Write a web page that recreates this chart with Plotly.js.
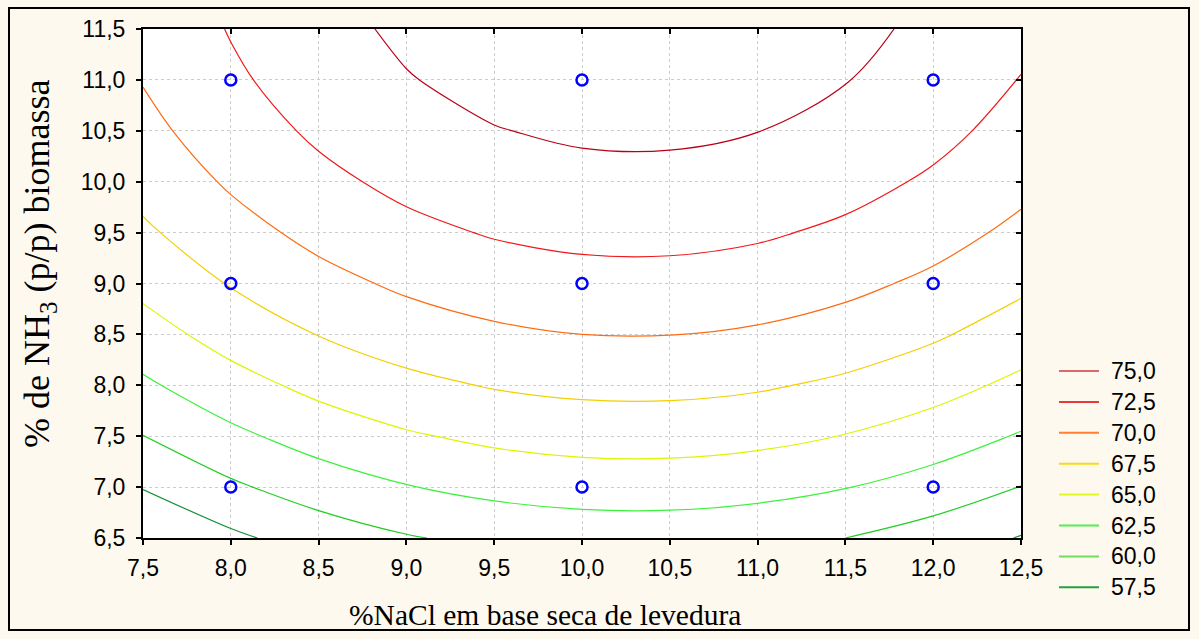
<!DOCTYPE html>
<html>
<head>
<meta charset="utf-8">
<script src="https://cdn.plot.ly/plotly-3.0.1.min.js"></script>
<style>
  html, body { margin: 0; padding: 0; background: #fdf9ef; }
  #chart { width: 1199px; height: 639px; }
</style>
</head>
<body>
<div id="chart"></div>
<script>
// Grid of %NaCl (x) and %NH3 (y) on which the response surface was read
const xGrid = [7.5, 8.0, 8.5, 9.0, 9.5, 10.0, 10.5, 11.0, 11.5, 12.0, 12.5];
const yGrid = [6.5, 7.0, 7.5, 8.0, 8.5, 9.0, 9.5, 10.0, 10.5, 11.0, 11.5];
// Response values (rows follow yGrid, columns follow xGrid)
const zGrid = [
  [55.04, 57.02, 58.61, 59.81, 60.62, 61.05, 61.09, 60.74, 60.00, 58.88, 57.37],
  [57.62, 59.60, 61.19, 62.39, 63.20, 63.63, 63.67, 63.32, 62.58, 61.46, 59.95],
  [59.96, 61.94, 63.53, 64.73, 65.54, 65.97, 66.01, 65.66, 64.92, 63.80, 62.29],
  [62.09, 64.07, 65.66, 66.86, 67.67, 68.10, 68.14, 67.79, 67.05, 65.93, 64.42],
  [63.99, 65.97, 67.56, 68.76, 69.57, 70.00, 70.04, 69.69, 68.95, 67.83, 66.32],
  [65.66, 67.64, 69.23, 70.43, 71.24, 71.67, 71.71, 71.36, 70.62, 69.50, 67.99],
  [67.11, 69.09, 70.68, 71.88, 72.69, 73.12, 73.16, 72.81, 72.07, 70.95, 69.44],
  [68.33, 70.31, 71.90, 73.10, 73.91, 74.34, 74.38, 74.03, 73.29, 72.17, 70.66],
  [69.33, 71.31, 72.90, 74.10, 74.91, 75.34, 75.38, 75.03, 74.29, 73.17, 71.66],
  [70.11, 72.09, 73.68, 74.88, 75.69, 76.12, 76.16, 75.81, 75.07, 73.95, 72.44],
  [70.66, 72.64, 74.23, 75.43, 76.24, 76.67, 76.71, 76.36, 75.62, 74.50, 72.99]
];
// Contour levels (legend order) and their colours
const levels = [75.0, 72.5, 70.0, 67.5, 65.0, 62.5, 60.0, 57.5];
const levelLabels = ["75,0", "72,5", "70,0", "67,5", "65,0", "62,5", "60,0", "57,5"];
const levelColors = ["#b80018", "#f01818", "#ff6a10", "#f2d000", "#dcf500", "#3cf03c", "#22cc22", "#15913a"];
const legendColors = ["#d86a6a", "#e83a3a", "#ff8030", "#f8dc10", "#e0fa20", "#50f050", "#70dc60", "#25a040"];
// Experimental design points
const designX = [8, 8, 8, 10, 10, 10, 12, 12, 12];
const designY = [7, 9, 11, 7, 9, 11, 7, 9, 11];
// Text
const xTitle = '%NaCl em base seca de levedura';
const yTitle = '% de NH<sub>3</sub> (p/p) biomassa';

const traces = [];
levels.forEach((lv, i) => {
  traces.push({
    type: 'contour', x: xGrid, y: yGrid, z: zGrid,
    autocontour: false,
    contours: { start: lv, end: lv, size: 2.5, coloring: 'none', showlabels: false },
    line: { color: levelColors[i], width: 1.2, smoothing: 1 },
    showscale: false, showlegend: false, hoverinfo: 'skip'
  });
});
traces.push({
  type: 'scatter', mode: 'markers', x: designX, y: designY,
  marker: { symbol: 'circle-open', size: 11, color: '#0000ff', line: { width: 2.5, color: '#0000ff' } },
  showlegend: false, hoverinfo: 'skip'
});
// invisible trace to make the mirrored (top/right) axes exist
traces.push({ type: 'scatter', mode: 'lines', x: [null], y: [null], xaxis: 'x2', yaxis: 'y2', showlegend: false, hoverinfo: 'skip' });

const tickFont = { family: 'Liberation Sans, Arial, sans-serif', size: 23, color: '#000' };

const L = 143, R = 178, T = 29, B = 101;
const W = 1199 - L - R, H = 639 - T - B;
const px = v => (v - L) / W;
const py = v => (639 - B - v) / H;

const shapes = [{
  type: 'rect', xref: 'paper', yref: 'paper',
  x0: px(9), x1: px(1189), y0: py(630), y1: py(8),
  line: { color: '#000', width: 2 }, fillcolor: 'rgba(0,0,0,0)', layer: 'below'
}];
const annotations = [
  { xref: 'paper', yref: 'paper', x: px(545), y: py(615), xanchor: 'center', yanchor: 'middle',
    text: xTitle, showarrow: false, font: { family: 'Liberation Serif, Times New Roman, serif', size: 29.5, color: '#000' } },
  { xref: 'paper', yref: 'paper', x: px(39), y: py(264), xanchor: 'center', yanchor: 'middle',
    text: yTitle, textangle: -90, showarrow: false, font: { family: 'Liberation Serif, Times New Roman, serif', size: 36, color: '#000' } }
];
levelLabels.forEach((lab, i) => {
  const yc = 371 + i * 30.9;
  shapes.push({ type: 'line', xref: 'paper', yref: 'paper', x0: px(1059), x1: px(1099), y0: py(yc), y1: py(yc),
    line: { color: legendColors[i], width: 2 } });
  annotations.push({ xref: 'paper', yref: 'paper', x: px(1109), y: py(yc), xanchor: 'left', yanchor: 'middle',
    text: lab, showarrow: false, font: { family: 'Liberation Sans, Arial, sans-serif', size: 23, color: '#000' } });
});

const layout = {
  width: 1199, height: 639,
  margin: { l: L, r: R, t: T, b: B, pad: 0 },
  paper_bgcolor: '#fdf9ef', plot_bgcolor: '#ffffff',
  separators: ',.',
  showlegend: false,
  xaxis: {
    range: [7.5, 12.5], tick0: 7.5, dtick: 0.5, tickformat: '.1f',
    ticks: 'outside', ticklen: 5, tickwidth: 2, tickcolor: '#000',
    showline: true, linecolor: '#000', linewidth: 2,
    showgrid: true, gridcolor: '#cccccc', griddash: 'dot', gridwidth: 1,
    zeroline: false, tickfont: tickFont, ticklabelstandoff: 3
  },
  yaxis: {
    range: [6.5, 11.5], tick0: 6.5, dtick: 0.5, tickformat: '.1f',
    ticks: 'outside', ticklen: 5, tickwidth: 2, tickcolor: '#000',
    showline: true, linecolor: '#000', linewidth: 2,
    showgrid: true, gridcolor: '#cccccc', griddash: 'dot', gridwidth: 1,
    zeroline: false, tickfont: tickFont, ticklabelstandoff: 6
  },
  xaxis2: {
    overlaying: 'x', side: 'top', range: [7.5, 12.5], tick0: 7.5, dtick: 0.5,
    ticks: 'inside', ticklen: 5, tickwidth: 2, tickcolor: '#000',
    showline: true, linecolor: '#000', linewidth: 2,
    showgrid: false, zeroline: false, showticklabels: false
  },
  yaxis2: {
    overlaying: 'y', side: 'right', range: [6.5, 11.5], tick0: 6.5, dtick: 0.5,
    ticks: 'inside', ticklen: 5, tickwidth: 2, tickcolor: '#000',
    showline: true, linecolor: '#000', linewidth: 2,
    showgrid: false, zeroline: false, showticklabels: false
  },
  shapes: shapes,
  annotations: annotations
};

Plotly.newPlot('chart', traces, layout, { staticPlot: true, displayModeBar: false });
</script>
</body>
</html>
